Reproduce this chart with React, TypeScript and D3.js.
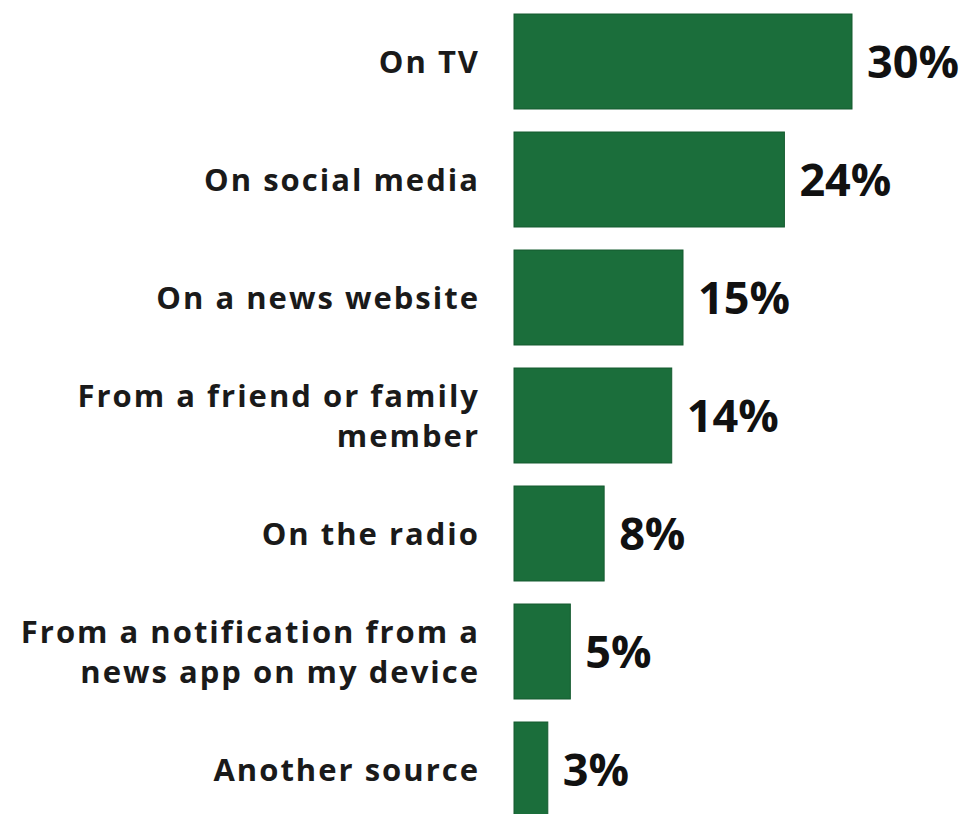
import React from "react";
import * as d3 from "d3";

const categories: string[][] = [
  ["On TV"],
  ["On social media"],
  ["On a news website"],
  ["From a friend or family", "member"],
  ["On the radio"],
  ["From a notification from a", "news app on my device"],
  ["Another source"],
];
const values: number[] = [30, 24, 15, 14, 8, 5, 3];
const valueLabels: string[] = ["30%", "24%", "15%", "14%", "8%", "5%", "3%"];

const W = 963;
const H = 814;
const FONT = "'Open Sans', Lato, sans-serif";

export default function App() {
  const ids = values.map((_, i) => String(i));
  const y = d3.scaleBand<string>().domain(ids).range([14 - 23 * 0.5, 14 - 23 * 0.5 + 118 * 7]).paddingInner(0.195).paddingOuter(0.0975);
  const x = d3.scaleLinear().domain([0, 30]).range([514, 852]);

  return (
    <svg width={W} height={H} style={{ position: "absolute", left: 0, top: 0, background: "#fff" }}>
      <rect x={0} y={0} width={W} height={H} fill="#fff" />
      {values.map((v, i) => {
        const y0 = y(String(i))!;
        const bh = y.bandwidth();
        const cy = y0 + bh / 2;
        const lines = categories[i];
        const lh = 40;
        return (
          <g key={i}>
            <rect x={x(0)} y={y0} width={x(v) - x(0)} height={bh} fill="#1b6e3b" stroke="#145a2f" strokeWidth={1} />
            <text x={x(v) + 15} y={cy} dy="0.36em" fontFamily={FONT} fontWeight={700} fontSize={45} fill="#111">
              {valueLabels[i]}
            </text>
            {lines.map((l, j) => (
              <text
                key={j}
                x={480}
                y={cy + (j - (lines.length - 1) / 2) * lh}
                dy="0.36em"
                textAnchor="end"
                fontFamily={FONT}
                fontWeight={700}
                fontSize={31}
                letterSpacing={2}
                fill="#1a1a1a"
              >
                {l}
              </text>
            ))}
          </g>
        );
      })}
    </svg>
  );
}
